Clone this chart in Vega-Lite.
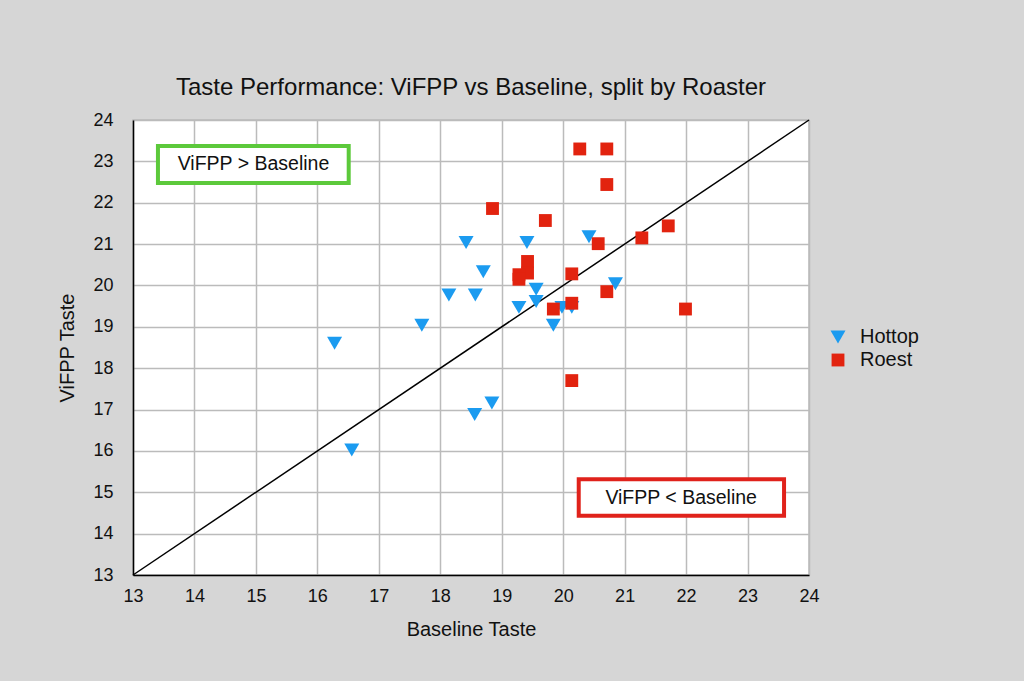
{
  "$schema": "https://vega.github.io/schema/vega-lite/v6.json",
  "description": "Taste performance of ViFPP vs baseline, split by roaster.",
  "width": 676,
  "height": 455,
  "autosize": {"type": "none"},
  "padding": {"left": 133, "top": 120, "right": 215, "bottom": 106},
  "background": "#d6d6d6",
  "title": {
    "text": "Taste Performance: ViFPP vs Baseline, split by Roaster",
    "font": "Liberation Sans",
    "fontSize": 24,
    "fontWeight": "normal",
    "color": "#111111",
    "anchor": "middle",
    "baseline": "alphabetic",
    "offset": -8
  },
  "config": {
    "view": {"fill": "white", "stroke": "#bbbbbb", "strokeWidth": 1.5},
    "font": "Liberation Sans",
    "axis": {
      "domainColor": "#000000",
      "domainWidth": 1.5,
      "ticks": false,
      "gridColor": "#bbbbbb",
      "gridWidth": 1.5,
      "gridOpacity": 1,
      "labelFont": "Liberation Sans",
      "labelFontSize": 18,
      "labelColor": "#111111",
      "labelFlush": false,
      "format": "d",
      "titleFont": "Liberation Sans",
      "titleFontSize": 20,
      "titleFontWeight": "normal",
      "titleColor": "#111111"
    }
  },
  "datasets": {
    "tastes": [
      {"baseline": 18.42, "vifpp": 21.04, "roaster": "Hottop"},
      {"baseline": 19.41, "vifpp": 21.04, "roaster": "Hottop"},
      {"baseline": 20.42, "vifpp": 21.18, "roaster": "Hottop"},
      {"baseline": 18.70, "vifpp": 20.33, "roaster": "Hottop"},
      {"baseline": 18.14, "vifpp": 19.77, "roaster": "Hottop"},
      {"baseline": 18.57, "vifpp": 19.77, "roaster": "Hottop"},
      {"baseline": 19.56, "vifpp": 19.91, "roaster": "Hottop"},
      {"baseline": 19.56, "vifpp": 19.61, "roaster": "Hottop"},
      {"baseline": 19.28, "vifpp": 19.47, "roaster": "Hottop"},
      {"baseline": 19.98, "vifpp": 19.47, "roaster": "Hottop"},
      {"baseline": 20.14, "vifpp": 19.47, "roaster": "Hottop"},
      {"baseline": 20.85, "vifpp": 20.04, "roaster": "Hottop"},
      {"baseline": 19.84, "vifpp": 19.04, "roaster": "Hottop"},
      {"baseline": 17.70, "vifpp": 19.04, "roaster": "Hottop"},
      {"baseline": 16.28, "vifpp": 18.60, "roaster": "Hottop"},
      {"baseline": 18.84, "vifpp": 17.16, "roaster": "Hottop"},
      {"baseline": 18.56, "vifpp": 16.88, "roaster": "Hottop"},
      {"baseline": 16.56, "vifpp": 16.02, "roaster": "Hottop"},
      {"baseline": 20.27, "vifpp": 23.30, "roaster": "Roest"},
      {"baseline": 20.71, "vifpp": 23.30, "roaster": "Roest"},
      {"baseline": 20.71, "vifpp": 22.44, "roaster": "Roest"},
      {"baseline": 18.85, "vifpp": 21.86, "roaster": "Roest"},
      {"baseline": 19.71, "vifpp": 21.57, "roaster": "Roest"},
      {"baseline": 20.57, "vifpp": 21.01, "roaster": "Roest"},
      {"baseline": 21.28, "vifpp": 21.15, "roaster": "Roest"},
      {"baseline": 21.71, "vifpp": 21.44, "roaster": "Roest"},
      {"baseline": 19.42, "vifpp": 20.58, "roaster": "Roest"},
      {"baseline": 19.42, "vifpp": 20.30, "roaster": "Roest"},
      {"baseline": 19.28, "vifpp": 20.26, "roaster": "Roest"},
      {"baseline": 19.28, "vifpp": 20.15, "roaster": "Roest"},
      {"baseline": 20.14, "vifpp": 20.28, "roaster": "Roest"},
      {"baseline": 20.71, "vifpp": 19.85, "roaster": "Roest"},
      {"baseline": 20.14, "vifpp": 19.57, "roaster": "Roest"},
      {"baseline": 19.84, "vifpp": 19.43, "roaster": "Roest"},
      {"baseline": 21.99, "vifpp": 19.43, "roaster": "Roest"},
      {"baseline": 20.14, "vifpp": 17.70, "roaster": "Roest"}
    ],
    "boxes": [
      {"label": "ViFPP > Baseline", "side": "above", "x1": 13.406, "x2": 16.51, "y1": 23.372, "y2": 22.478, "tx": 14.96, "ty": 22.93},
      {"label": "ViFPP < Baseline", "side": "below", "x1": 20.253, "x2": 23.594, "y1": 15.312, "y2": 14.43, "tx": 21.92, "ty": 14.87}
    ],
    "parity": [
      {"baseline": 13, "vifpp": 13},
      {"baseline": 24, "vifpp": 24}
    ]
  },
  "layer": [
    {
      "data": {"name": "boxes"},
      "mark": {"type": "rect", "fill": "white", "strokeWidth": 4},
      "encoding": {
        "x": {"field": "x1", "type": "quantitative", "scale": {"domain": [13, 24], "nice": false, "zero": false}},
        "x2": {"field": "x2"},
        "y": {"field": "y1", "type": "quantitative", "scale": {"domain": [13, 24], "nice": false, "zero": false}},
        "y2": {"field": "y2"},
        "stroke": {
          "field": "side",
          "type": "nominal",
          "scale": {"domain": ["above", "below"], "range": ["#5cc93b", "#e0221b"]},
          "legend": null
        }
      }
    },
    {
      "data": {"name": "boxes"},
      "mark": {"type": "text", "fontSize": 19.5, "color": "#111111", "baseline": "middle", "align": "center"},
      "encoding": {
        "x": {"field": "tx", "type": "quantitative"},
        "y": {"field": "ty", "type": "quantitative"},
        "text": {"field": "label"}
      }
    },
    {
      "data": {"name": "parity"},
      "mark": {"type": "line", "color": "#000000", "strokeWidth": 1.5},
      "encoding": {
        "x": {"field": "baseline", "type": "quantitative"},
        "y": {"field": "vifpp", "type": "quantitative"}
      }
    },
    {
      "data": {"name": "tastes"},
      "mark": {"type": "point", "filled": true, "opacity": 1},
      "encoding": {
        "x": {
          "field": "baseline",
          "type": "quantitative",
          "title": "Baseline Taste",
          "axis": {"values": [13, 14, 15, 16, 17, 18, 19, 20, 21, 22, 23, 24], "labelPadding": 12, "titlePadding": 14}
        },
        "y": {
          "field": "vifpp",
          "type": "quantitative",
          "title": "ViFPP Taste",
          "axis": {"values": [13, 14, 15, 16, 17, 18, 19, 20, 21, 22, 23, 24], "labelPadding": 20, "titlePadding": 15}
        },
        "shape": {
          "field": "roaster",
          "type": "nominal",
          "scale": {"domain": ["Hottop", "Roest"], "range": ["triangle-down", "square"]},
          "legend": {
            "title": null,
            "orient": "none",
            "legendX": 695,
            "legendY": 207,
            "labelFontSize": 20,
            "labelFont": "Liberation Sans",
            "labelColor": "#111111",
            "labelOffset": 12,
            "symbolSize": 110,
            "rowPadding": 3
          }
        },
        "color": {
          "field": "roaster",
          "type": "nominal",
          "scale": {"domain": ["Hottop", "Roest"], "range": ["#1b9bf0", "#e2230f"]},
          "legend": {
            "title": null,
            "orient": "none",
            "legendX": 695,
            "legendY": 207,
            "labelFontSize": 20,
            "labelFont": "Liberation Sans",
            "labelColor": "#111111",
            "labelOffset": 12,
            "symbolSize": 110,
            "rowPadding": 3
          }
        },
        "size": {
          "field": "roaster",
          "type": "nominal",
          "scale": {"domain": ["Hottop", "Roest"], "range": [225, 165]},
          "legend": null
        }
      }
    }
  ]
}
